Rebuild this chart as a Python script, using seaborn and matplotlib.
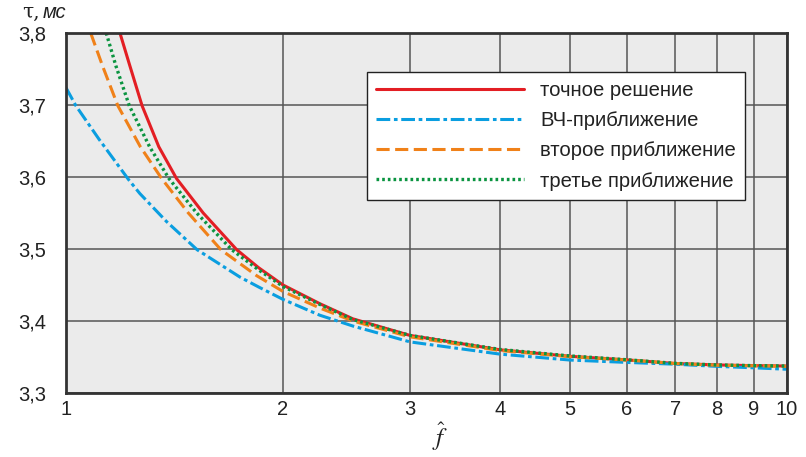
import numpy as np
import pandas as pd
import matplotlib
matplotlib.use('Agg')
import matplotlib.pyplot as plt
import seaborn as sns

# данные
red_x = [1.188, 1.224, 1.275, 1.345, 1.423, 1.55, 1.725, 1.85, 2.0, 2.25, 2.5, 3, 4, 5, 6, 7, 8, 9, 10]
red_y = [3.800, 3.757, 3.699, 3.642, 3.598, 3.550, 3.499, 3.474, 3.450, 3.424, 3.403, 3.380, 3.360, 3.351, 3.346, 3.341, 3.339, 3.338, 3.3375]

blue_x = [1.0, 1.032, 1.112, 1.222, 1.266, 1.379, 1.52, 1.743, 1.852, 2.0, 2.25, 2.5, 3, 4, 5, 6, 7, 8, 9, 10]
blue_y = [3.724, 3.699, 3.652, 3.596, 3.577, 3.538, 3.499, 3.461, 3.447, 3.430, 3.408, 3.393, 3.371, 3.354, 3.3458, 3.3425, 3.340, 3.337, 3.335, 3.333]

orange_x = [1.082, 1.124, 1.18, 1.268, 1.357, 1.478, 1.64, 1.838, 2.0, 2.25, 2.5, 3, 4, 5, 6, 7, 8, 9, 10]
orange_y = [3.800, 3.754, 3.699, 3.642, 3.598, 3.550, 3.499, 3.463, 3.441, 3.418, 3.400, 3.378, 3.359, 3.3505, 3.3458, 3.341, 3.3385, 3.3378, 3.337]

green_x = [1.137, 1.173, 1.224, 1.306, 1.389, 1.518, 1.698, 1.85, 2.0, 2.25, 2.5, 3, 4, 5, 6, 7, 8, 9, 10]
green_y = [3.800, 3.754, 3.699, 3.642, 3.598, 3.550, 3.499, 3.471, 3.448, 3.423, 3.402, 3.380, 3.3605, 3.3515, 3.3462, 3.3412, 3.339, 3.338, 3.3375]

labels = ['точное решение', 'ВЧ-приближение', 'второе приближение', 'третье приближение']
x_ticks = [1, 2, 3, 4, 5, 6, 7, 8, 9, 10]
y_ticks = [3.3, 3.4, 3.5, 3.6, 3.7, 3.8]
y_ticklabels = ['3,3', '3,4', '3,5', '3,6', '3,7', '3,8']

sns.set_theme(style='white')
plt.rcParams['font.family'] = ['Liberation Sans', 'DejaVu Sans']

fig = plt.figure(figsize=(8.06, 4.57), dpi=100)
ax = fig.add_axes([0.0819, 0.140, 0.8945, 0.7878])
ax.set_facecolor('#ebebeb')

# линии: точное решение и приближения
sns.lineplot(x=red_x, y=red_y, ax=ax, color='#e31e24', lw=2.2, label=labels[0])
sns.lineplot(x=blue_x, y=blue_y, ax=ax, color='#0a9ee0', lw=2.2, label=labels[1]).lines[-1].set_dashes((4.5, 1.2, 1.2, 1.2))
sns.lineplot(x=orange_x, y=orange_y, ax=ax, color='#f08119', lw=2.2, label=labels[2]).lines[-1].set_dashes((4.3, 1.8))
sns.lineplot(x=green_x, y=green_y, ax=ax, color='#0a9440', lw=2.4, label=labels[3]).lines[-1].set_dashes((0.8, 0.9))

ax.set_xscale('log')
ax.set_xlim(1, 10)
ax.set_ylim(3.3, 3.8)
ax.set_xticks(x_ticks)
ax.set_xticklabels([str(t) for t in x_ticks])
ax.xaxis.set_minor_locator(matplotlib.ticker.NullLocator())
ax.set_yticks(y_ticks)
ax.set_yticklabels(y_ticklabels)
ax.tick_params(axis='x', length=0, pad=5, labelsize=14.5, colors='#222222')
ax.tick_params(axis='y', length=0, pad=14, labelsize=14.5, colors='#222222')
ax.grid(True, color='#555555', lw=1.1)
ax.set_axisbelow(True)
for s in ax.spines.values():
    s.set_color('#333333')
    s.set_linewidth(2)
    s.set_visible(True)
ax.set_xlabel('')
ax.set_ylabel('')

leg = ax.legend(loc='upper left', bbox_to_anchor=(0.4175, 0.8917), borderaxespad=0,
                fontsize=14.6, handlelength=7.3, handletextpad=0.8, labelspacing=0.55,
                borderpad=0.45, fancybox=False, framealpha=1, edgecolor='#222222')
leg.get_frame().set_linewidth(1.0)
for t in leg.get_texts():
    t.set_color('#222222')

# подписи осей
fig.text(0.027, 0.972, 'τ,', fontsize=14.5, family='DejaVu Serif', va='center', ha='left', color='#222222')
fig.text(0.053, 0.972, 'мс', fontsize=14.5, style='italic', va='center', ha='left', color='#222222')
fig.text(0.5455, 0.045, r'$\widehat{f}$', fontsize=18, va='center', ha='center', color='#222222',
         math_fontfamily='stix')

fig.savefig('out.png', dpi=100)
